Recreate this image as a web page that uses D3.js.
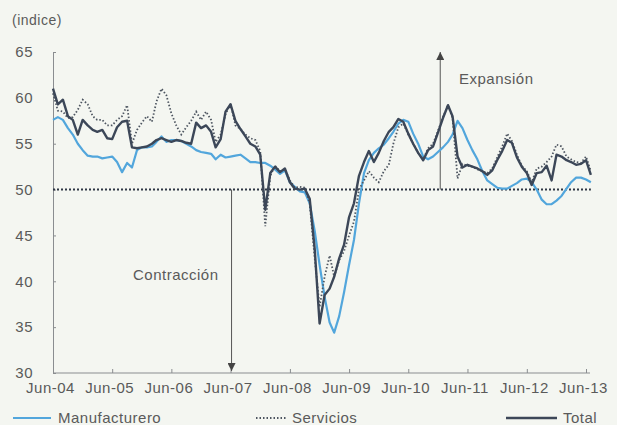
<!DOCTYPE html>
<html><head><meta charset="utf-8">
<script src="https://cdn.jsdelivr.net/npm/d3@7"></script>
<style>
html,body{margin:0;padding:0;background:#f4f6f1;}
svg{display:block;font-family:"Liberation Sans",Arial,sans-serif;}
svg text{letter-spacing:0.5px;}
</style></head><body>
<svg id="chart" width="617" height="425"></svg>
<script>
// ---- data (monthly, Jun-04 .. Jul-13) ----
const startYear = 2004, startMonth = 5; // June 2004 (0-based month)
const manufacturero = [57.6,57.9,57.6,56.7,56.0,55.0,54.3,53.7,53.6,53.6,53.4,53.5,53.6,53.0,51.9,52.9,52.4,54.3,54.6,54.6,54.7,55.2,55.8,55.2,55.4,55.4,55.3,55.0,54.7,54.3,54.1,54.0,53.9,53.3,53.8,53.5,53.6,53.7,53.8,53.4,53.0,53.0,52.9,52.9,52.6,52.2,51.7,52.1,50.8,50.3,49.8,49.7,48.5,45.5,41.8,38.3,35.5,34.4,36.2,38.8,41.8,44.5,48.5,51.8,53.2,54.0,54.5,54.9,55.6,56.3,57.2,57.6,57.4,56.1,55.0,53.6,53.3,53.6,54.1,54.6,55.2,56.0,57.5,56.7,55.4,54.3,53.3,52.0,51.0,50.6,50.2,50.1,50.1,50.4,50.7,51.1,51.2,50.8,50.0,48.9,48.4,48.4,48.8,49.3,50.1,50.8,51.3,51.3,51.1,50.8];
const servicios = [60.5,58.6,58.5,57.8,57.9,58.7,59.8,59.3,58.0,57.6,57.6,57.0,57.0,57.6,58.0,59.2,55.0,56.5,57.3,58.0,57.4,59.6,61.0,60.3,58.3,57.0,56.0,56.8,57.5,58.5,57.6,58.5,57.6,55.2,56.0,58.2,59.4,57.0,56.6,56.0,55.6,55.4,54.2,46.0,51.5,52.6,52.0,52.2,51.0,50.2,50.3,50.2,48.5,42.5,37.2,40.5,42.8,40.5,42.3,43.3,45.0,46.5,50.0,51.0,52.0,51.3,50.8,52.0,52.7,55.0,56.8,57.2,56.0,55.0,54.0,53.3,54.5,55.0,56.4,57.9,59.2,57.8,51.2,52.8,52.6,52.5,52.2,52.0,51.8,52.3,53.5,54.7,56.1,55.3,53.8,52.6,52.0,50.8,52.3,52.5,53.0,53.6,54.9,54.7,53.6,53.3,53.0,52.9,53.6,52.0];
const total = [61.0,59.3,59.8,58.0,57.6,56.0,57.6,57.0,56.5,56.3,56.5,55.6,55.5,56.8,57.4,57.5,54.6,54.5,54.6,54.7,55.0,55.4,55.6,55.4,55.2,55.4,55.3,55.1,55.0,57.3,56.7,57.0,56.3,54.6,55.5,58.5,59.3,57.5,56.6,55.8,55.0,54.7,53.8,47.8,51.8,52.5,51.9,52.3,50.8,50.1,50.0,50.1,49.0,43.5,35.4,38.5,39.2,40.5,42.5,44.0,47.0,48.5,51.5,53.0,54.2,53.0,54.0,55.3,56.3,56.8,57.7,57.4,56.1,55.0,54.0,53.2,54.3,54.7,56.2,57.8,59.2,58.0,53.6,52.4,52.7,52.5,52.3,52.0,51.6,52.1,53.2,54.2,55.4,55.1,53.5,52.5,51.8,50.5,51.8,51.9,52.6,51.0,53.8,53.6,53.2,53.0,52.7,52.8,53.2,51.6];
const xTickLabels = ["Jun-04","Jun-05","Jun-06","Jun-07","Jun-08","Jun-09","Jun-10","Jun-11","Jun-12","Jun-13"];
const yTicks = [30,35,40,45,50,55,60,65];
const seriesNames = ["Manufacturero","Servicios","Total"];
const threshold = 50;

const months = manufacturero.map((_, i) => new Date(startYear, startMonth + i, 1));
const tickDates = xTickLabels.map((_, i) => new Date(startYear + i, startMonth, 1));

const svg = d3.select("#chart");
const x = d3.scaleTime().domain([tickDates[0], tickDates[tickDates.length - 1]]).range([53, 586]);
const y = d3.scaleLinear().domain([30, 65]).range([373, 52]);

const textCol = "#5a5a5a";
const axisCol = "#8a8d90";
const blue = "#52a6dc";
const dark = "#3c4758";
const dotCol = "#4d5560";
const fs = "15px";

// y axis
const yAxis = svg.append("g").attr("transform", "translate(53,0)")
  .call(d3.axisLeft(y).tickValues(yTicks).tickSize(-3).tickPadding(20).tickFormat(d3.format("d")));
yAxis.select(".domain").attr("stroke", axisCol);
yAxis.selectAll(".tick line").attr("stroke", axisCol);
yAxis.selectAll("text").attr("fill", textCol).style("font-size", fs).attr("font-family", "Liberation Sans, Arial");

// x axis
const xAxis = svg.append("g").attr("transform", "translate(0,373)")
  .call(d3.axisBottom(x).tickValues(tickDates).tickSize(-4).tickPadding(9)
    .tickFormat((d, i) => xTickLabels[i]));
xAxis.select(".domain").attr("stroke", axisCol).attr("d", "M53,0H590");
xAxis.selectAll(".tick line").attr("stroke", axisCol);
xAxis.selectAll("text").attr("fill", textCol).style("font-size", fs).attr("dx", -3).attr("font-family", "Liberation Sans, Arial");

// threshold dotted line
svg.append("line")
  .attr("x1", x(months[0])).attr("x2", x(months[months.length - 1]))
  .attr("y1", y(threshold)).attr("y2", y(threshold))
  .attr("stroke", "#2e3644").attr("stroke-width", 2).attr("stroke-dasharray", "2,2");

// arrows
const defs = svg.append("defs");
defs.append("marker").attr("id", "arr").attr("viewBox", "0 0 10 10").attr("refX", 10).attr("refY", 5)
  .attr("markerWidth", 8).attr("markerHeight", 8).attr("markerUnits", "userSpaceOnUse").attr("orient", "auto")
  .append("path").attr("d", "M0,0L10,5L0,10Z").attr("fill", "#444");

const contractDate = new Date(2007, 5, 1), expandDate = new Date(2010, 11, 15);
svg.append("line").attr("x1", x(contractDate) + 1).attr("x2", x(contractDate) + 1)
  .attr("y1", y(threshold)).attr("y2", y(30) - 2)
  .attr("stroke", "#555").attr("stroke-width", 1).attr("marker-end", "url(#arr)");
svg.append("line").attr("x1", x(expandDate)).attr("x2", x(expandDate))
  .attr("y1", y(threshold)).attr("y2", y(65))
  .attr("stroke", "#555").attr("stroke-width", 1).attr("marker-end", "url(#arr)");

svg.append("text").attr("x", 133).attr("y", 280).text("Contracción")
  .attr("fill", textCol).style("font-size", fs);
svg.append("text").attr("x", 459).attr("y", 84).text("Expansión")
  .attr("fill", textCol).style("font-size", fs);

// lines
const line = d3.line().x((d, i) => x(months[i])).y(d => y(d));
svg.append("path").datum(manufacturero).attr("d", line).attr("fill", "none")
  .attr("stroke", blue).attr("stroke-width", 2.2).attr("stroke-linejoin", "round");
svg.append("path").datum(servicios).attr("d", line).attr("fill", "none")
  .attr("stroke", dotCol).attr("stroke-width", 1.8).attr("stroke-dasharray", "1.5,2");
svg.append("path").datum(total).attr("d", line).attr("fill", "none")
  .attr("stroke", dark).attr("stroke-width", 2.4).attr("stroke-linejoin", "round");

// unit label
svg.append("text").attr("x", 12).attr("y", 25).text("(indice)")
  .attr("fill", textCol).style("font-size", "14px");

// legend
const lg = svg.append("g");
const legendItems = [
  {name: seriesNames[0], x1: 13, x2: 51, tx: 58, stroke: blue, w: 2.2, dash: null},
  {name: seriesNames[1], x1: 256, x2: 287, tx: 292, stroke: dotCol, w: 1.8, dash: "1.5,2"},
  {name: seriesNames[2], x1: 506, x2: 557, tx: 563, stroke: dark, w: 2.4, dash: null}
];
legendItems.forEach(it => {
  lg.append("line").attr("x1", it.x1).attr("x2", it.x2).attr("y1", 418).attr("y2", 418)
    .attr("stroke", it.stroke).attr("stroke-width", it.w).attr("stroke-dasharray", it.dash);
  lg.append("text").attr("x", it.tx).attr("y", 423).text(it.name)
    .attr("fill", textCol).style("font-size", fs);
});
</script>
</body></html>
